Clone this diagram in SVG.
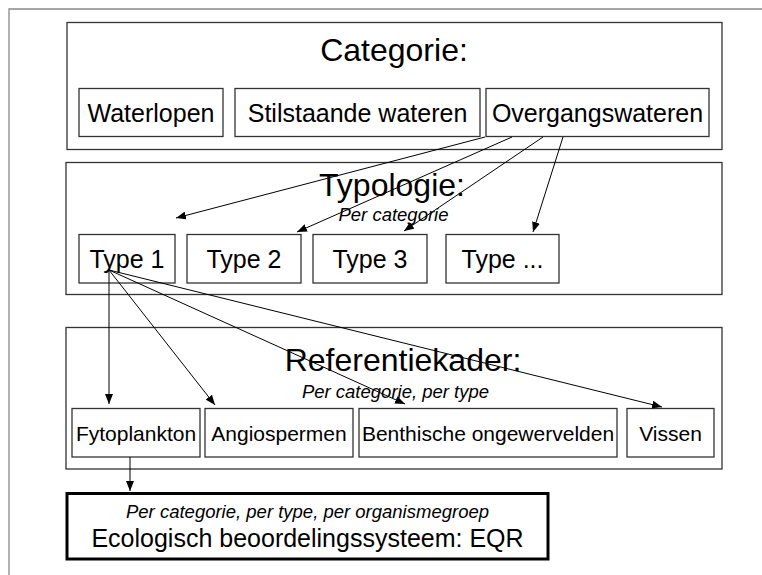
<svg xmlns="http://www.w3.org/2000/svg" width="762" height="575" viewBox="0 0 762 575">
<defs>
<style>
.frame{fill:none;stroke:#888;stroke-width:1.3}
.panel{fill:#fff;stroke:#333;stroke-width:1.3}
.box{fill:#fff;stroke:#333;stroke-width:1.3}
.eqr{fill:#fff;stroke:#000;stroke-width:3}
text{font-family:"Liberation Sans",Arial,sans-serif;fill:#000;text-anchor:middle}
.title{font-size:32px}
.item{font-size:25px}
.type{font-size:25px}
.sub{font-size:21px}
.note{font-size:18.5px;font-style:italic}
.conn line{stroke:#000;stroke-width:1;marker-end:url(#ah)}
</style>
<marker id="ah" markerUnits="userSpaceOnUse" markerWidth="10" markerHeight="8" refX="10" refY="4" orient="auto">
<path d="M0,0 L10,4 L0,8 z" fill="#000"/>
</marker>
</defs>
<rect width="762" height="575" fill="#fff"/>
<g id="frame"><path class="frame" d="M9,575 V9 H762"/></g>

<g id="categorie">
<rect class="panel" x="67" y="22.5" width="655" height="127"/>
<text class="title" x="394" y="61">Categorie:</text>
</g>
<g id="waterlopen"><rect class="box" x="79" y="88.5" width="144" height="48"/><text class="item" x="151" y="121.5">Waterlopen</text></g>
<g id="stilstaande"><rect class="box" x="235" y="88.5" width="245" height="48"/><text class="item" x="357.5" y="121.5">Stilstaande wateren</text></g>
<g id="overgangswateren"><rect class="box" x="486" y="88.5" width="223" height="48"/><text class="item" x="597.5" y="121.5">Overgangswateren</text></g>

<g id="typologie">
<rect class="panel" x="66" y="162.5" width="656" height="132"/>
<text class="title" x="392" y="196">Typologie:</text>
<text class="note" x="393.5" y="221">Per categorie</text>
</g>
<g id="type1"><rect class="box" x="79" y="234.5" width="96" height="48.5"/><text class="type" x="127" y="268">Type 1</text></g>
<g id="type2"><rect class="box" x="187" y="234.5" width="114" height="48.5"/><text class="type" x="244" y="268">Type 2</text></g>
<g id="type3"><rect class="box" x="313" y="234.5" width="114" height="48.5"/><text class="type" x="370" y="268">Type 3</text></g>
<g id="typeN"><rect class="box" x="446" y="234.5" width="113" height="48.5"/><text class="type" x="502.5" y="268">Type ...</text></g>

<g id="referentiekader">
<rect class="panel" x="66" y="327.5" width="656" height="141.5"/>
<text class="title" x="403" y="371">Referentiekader:</text>
<text class="note" x="395.5" y="398">Per categorie, per type</text>
</g>
<g id="fytoplankton"><rect class="box" x="72" y="408.5" width="128" height="48.5"/><text class="sub" x="136" y="440.5">Fytoplankton</text></g>
<g id="angiospermen"><rect class="box" x="205" y="408.5" width="148" height="48.5"/><text class="sub" x="279" y="440.5">Angiospermen</text></g>
<g id="benthische"><rect class="box" x="359" y="408.5" width="258" height="48.5"/><text class="sub" x="488" y="440.5">Benthische ongewervelden</text></g>
<g id="vissen"><rect class="box" x="627" y="408.5" width="87" height="48.5"/><text class="sub" x="670.5" y="440.5">Vissen</text></g>

<g id="eqr">
<rect class="eqr" x="67" y="493.5" width="481" height="65.5"/>
<text class="note" x="307.5" y="518">Per categorie, per type, per organismegroep</text>
<text class="item" x="307.5" y="547">Ecologisch beoordelingssysteem: EQR</text>
</g>

<g id="connectors" class="conn">
<line x1="485" y1="137" x2="176" y2="218"/>
<line x1="512" y1="137" x2="297" y2="232"/>
<line x1="543" y1="137" x2="404" y2="231"/>
<line x1="563" y1="137" x2="533" y2="232"/>
<line x1="109" y1="270" x2="109" y2="404"/>
<line x1="109" y1="270" x2="215" y2="405"/>
<line x1="109" y1="270" x2="405" y2="404"/>
<line x1="109" y1="270" x2="662" y2="407"/>
<line x1="130" y1="457" x2="130" y2="491"/>
</g>
</svg>
